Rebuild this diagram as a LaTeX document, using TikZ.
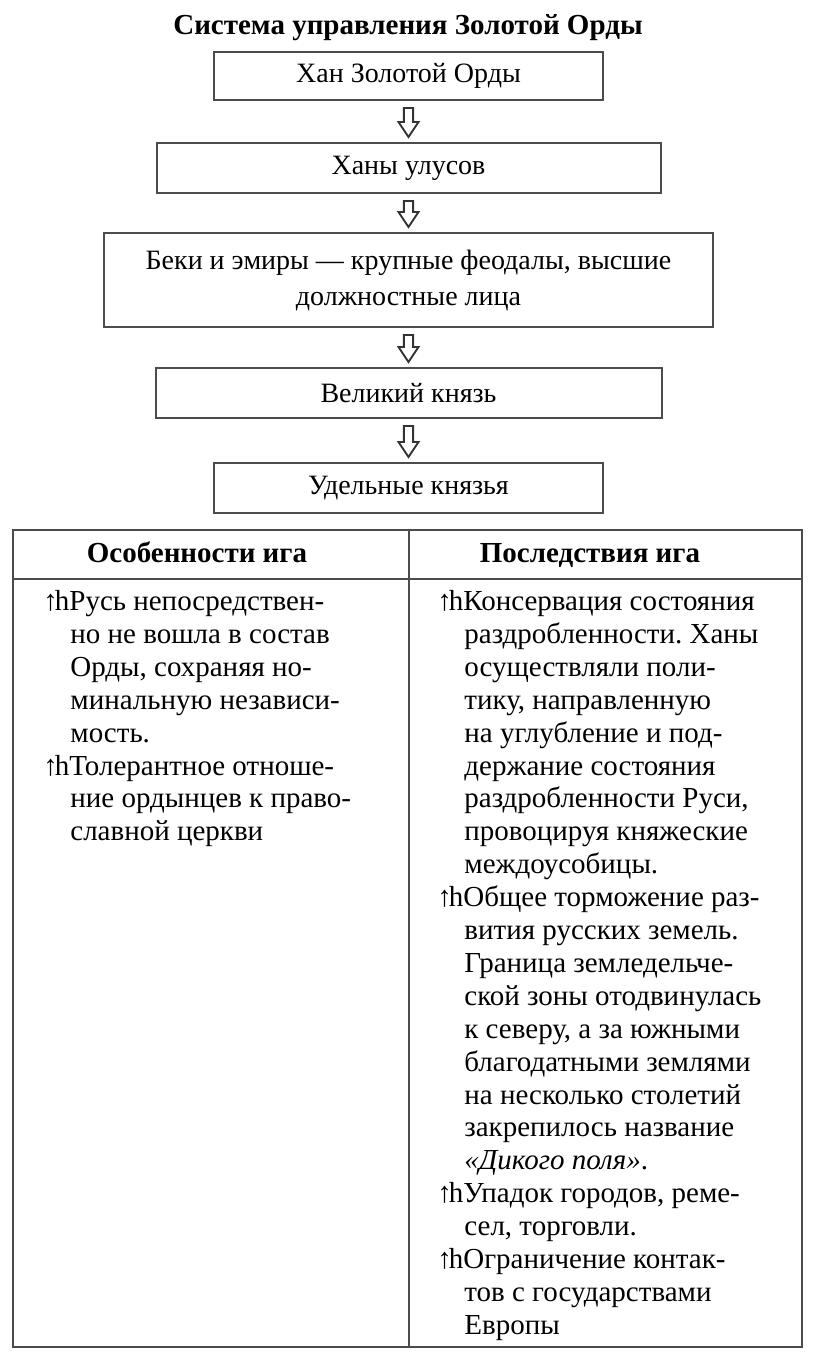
\documentclass[tikz,border=0pt]{standalone}
\usepackage{fontspec}
\setmainfont{Liberation Serif}
\frenchspacing

\tikzset{
  levelbox/.style={draw=black!70, line width=1pt, minimum height=24.5pt, inner sep=0pt,
    font=\fontsize{14}{18}\selectfont},
  % hollow down arrow, stem from the upper box, tip just above the lower box
  downarrow/.style={draw=black!80, line width=0.95pt, line join=miter, to path={
    ([xshift=-2.3pt,yshift=-3.5pt]\tikztostart) -- ([xshift=2.3pt,yshift=-3.5pt]\tikztostart)
    -- ([xshift=2.3pt,yshift=10pt]\tikztotarget) -- ([xshift=5pt,yshift=10pt]\tikztotarget)
    -- ([yshift=2.5pt]\tikztotarget) -- ([xshift=-5pt,yshift=10pt]\tikztotarget)
    -- ([xshift=-2.3pt,yshift=10pt]\tikztotarget) -- cycle}},
  tableline/.style={draw=black!70, line width=1pt},
  colhead/.style={font=\bfseries\fontsize{14.5}{16}\selectfont, inner sep=0pt},
  coltext/.style={anchor=north west, align=left, inner sep=0pt,
    font=\fontsize{14.5}{16.45}\selectfont},
}
\newcommand{\hang}{\hspace*{13.5pt}}
\newcommand{\mk}{↑\kern-1.5pt h}

\begin{document}
\begin{tikzpicture}[x=0.5pt,y=-0.5pt]
\useasboundingbox (0,0) rectangle (816,1367);
% title
\node[colhead] (title) at (408,28) {Система управления Золотой Орды};
% chain of rule
\node[levelbox, minimum width=194.5pt, minimum height=24pt] (khan) at (408.5,76) {Хан Золотой Орды};
\node[levelbox, minimum width=252pt, minimum height=25pt] (ulus) at (408.5,168) {Ханы улусов};
\node[levelbox, minimum width=304.5pt, minimum height=47pt, align=center] (beki) at (408.5,280)
  {Беки и эмиры — крупные феодалы, высшие\\должностные лица};
\node[levelbox, minimum width=253pt, minimum height=25pt] (velik) at (408.5,393) {Великий князь};
\node[levelbox, minimum width=194.5pt, minimum height=25pt] (udel) at (408.5,488) {Удельные князья};
\foreach \a/\b in {khan/ulus, ulus/beki, beki/velik, velik/udel}
  \draw[downarrow] (\a.south) to (\b.north);
% table frame
\draw[tableline] (13,530) rectangle (802,1347);
\draw[tableline] (13,579) -- (802,579);
\draw[tableline] (409,530) -- (409,1347);
\node[colhead, anchor=base] (osob) at (197,562) {Особенности ига};
\node[colhead, anchor=base] (posl) at (590,562) {Последствия ига};
% left column
\node[coltext] (osobtext) at (43,590) {\mk Русь непосредствен-\\
\hang но не вошла в состав\\
\hang Орды, сохраняя но-\\
\hang минальную независи-\\
\hang мость.\\
\mk Толерантное отноше-\\
\hang ние ордынцев к право-\\
\hang славной церкви};
% right column
\node[coltext] (posltext) at (437,590) {\mk Консервация состояния\\
\hang раздробленности. Ханы\\
\hang осуществляли поли-\\
\hang тику, направленную\\
\hang на углубление и под-\\
\hang держание состояния\\
\hang раздробленности Руси,\\
\hang провоцируя княжеские\\
\hang междоусобицы.\\
\mk Общее торможение раз-\\
\hang вития русских земель.\\
\hang Граница земледельче-\\
\hang ской зоны отодвинулась\\
\hang к северу, а за южными\\
\hang благодатными землями\\
\hang на несколько столетий\\
\hang закрепилось название\\
\hang \textit{«Дикого поля»}.\\
\mk Упадок городов, реме-\\
\hang сел, торговли.\\
\mk Ограничение контак-\\
\hang тов с государствами\\
\hang Европы};
\end{tikzpicture}
\end{document}
